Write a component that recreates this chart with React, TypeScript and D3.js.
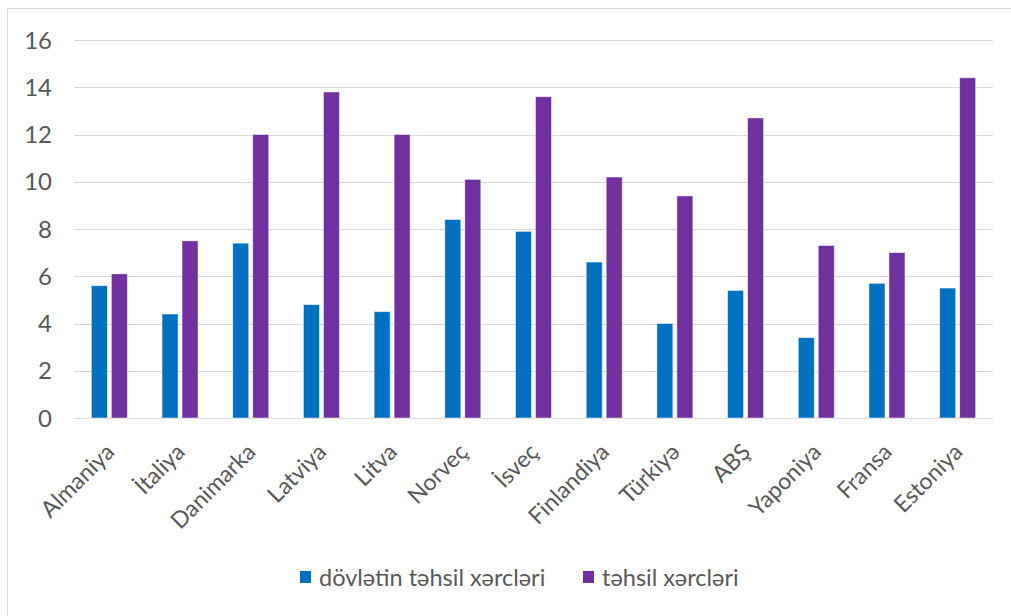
import React from "react";
import * as d3 from "d3";

const categories = ["Almaniya", "İtaliya", "Danimarka", "Latviya", "Litva", "Norveç", "İsveç", "Finlandiya", "Türkiyə", "ABŞ", "Yaponiya", "Fransa", "Estoniya"];
const seriesNames = ["dövlətin təhsil xərcləri", "təhsil xərcləri"];
const stateSpending = [5.6, 4.4, 7.4, 4.8, 4.5, 8.4, 7.9, 6.6, 4.0, 5.4, 3.4, 5.7, 5.5];
const totalSpending = [6.1, 7.5, 12.0, 13.8, 12.0, 10.1, 13.6, 10.2, 9.4, 12.7, 7.3, 7.0, 14.4];
const yTicks = [0, 2, 4, 6, 8, 10, 12, 14, 16];
const colors = ["#0070C0", "#7030A0"];

const W = 1011, H = 616;
const left = 74, right = 993, top = 40, bottom = 418;
const FONT = "Lato, 'Open Sans', sans-serif";

export default function App() {
  const x = d3.scaleBand<string>().domain(categories).range([left, right]).paddingInner(0).paddingOuter(0);
  const y = d3.scaleLinear().domain([0, 16]).range([bottom, top]);
  const inner = d3.scaleBand<number>().domain([0, 1]).range([-18, 18]).paddingInner(0.2);
  const series = [stateSpending, totalSpending];

  return (
    <svg width={W} height={H} style={{ position: "absolute", left: 0, top: 0, background: "#fff" }}>
      <rect x={7.5} y={8.5} width={1010} height={620} fill="#fff" stroke="#D9D9D9" strokeWidth={1} />
      {yTicks.map((t) => (
        <g key={t}>
          <line x1={left} x2={right} y1={Math.round(y(t)) + 0.5} y2={Math.round(y(t)) + 0.5} stroke="#D9D9D9" strokeWidth={1} />
          <text x={52} y={y(t)} dy="0.36em" textAnchor="end" fontFamily={FONT} fontSize={24} fill="#595959">{t}</text>
        </g>
      ))}
      {series.map((vals, si) =>
        vals.map((v, i) => {
          const cx = (x(categories[i]) as number) + x.bandwidth() / 2;
          return (
            <rect key={si + "-" + i} x={cx + (inner(si) as number)} y={y(v)} width={inner.bandwidth()} height={y(0) - y(v)}
              fill={colors[si]} stroke="#fff" strokeOpacity={0.6} strokeWidth={0.8} />
          );
        })
      )}
      {categories.map((c) => {
        const cx = (x(c) as number) + x.bandwidth() / 2;
        const ax = cx - 5, ay = 442;
        return (
          <text key={c} x={ax} y={ay} textAnchor="end" transform={`rotate(-45 ${ax} ${ay})`} dy="0.7em"
            fontFamily={FONT} fontSize={23} fill="#595959">{c}</text>
        );
      })}
      {seriesNames.map((n, i) => {
        const lx = [300, 583][i];
        return (
          <g key={n}>
            <rect x={lx} y={571} width={11} height={12} fill={colors[i]} />
            <text x={lx + 19} y={578} dy="0.35em" fontFamily={FONT} fontSize={23.5} fill="#595959">{n}</text>
          </g>
        );
      })}
    </svg>
  );
}
